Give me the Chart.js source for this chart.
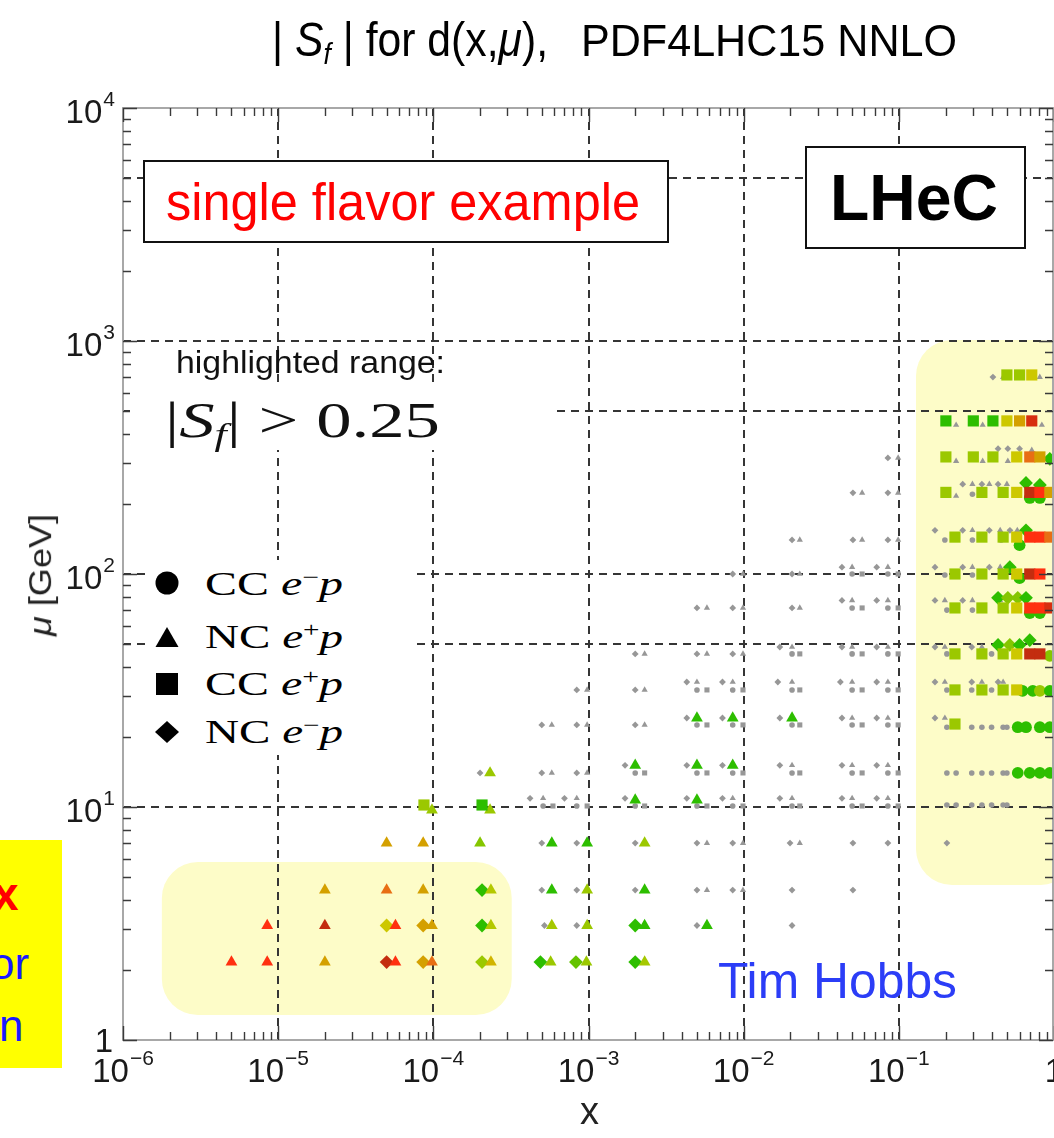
<!DOCTYPE html>
<html>
<head>
<meta charset="utf-8">
<title>|S_f| for d(x,mu), PDF4LHC15 NNLO</title>
<script src="https://cdn.jsdelivr.net/npm/chart.js"></script>
<style>
  html, body { margin:0; padding:0; background:#fff; }
  #wrap { position:relative; width:1054px; height:1138px; overflow:hidden; background:#fff; }
  #c { position:absolute; left:0; top:0; }
  .ov { position:absolute; white-space:nowrap; line-height:1; transform-origin:0 0; font-family:"Liberation Sans", Arial, sans-serif; }
  .serif { font-family:"Liberation Serif", "Times New Roman", serif; }
  .box { position:absolute; box-sizing:border-box; }
  .sub { font-size:0.62em; vertical-align:-0.25em; line-height:0; }
  .sup { font-size:0.62em; vertical-align:0.5em; line-height:0; }
</style>
</head>
<body>
<div id="wrap">
  <canvas id="c" width="1054" height="1138"></canvas>

  <!-- title -->
  <div class="ov" data-w="276" style="left:272px;top:15px;font-size:49px;color:#000;">| <i>S</i><span class="sub"><i>f</i></span> | for d(x,<i>μ</i>),</div>
  <div class="ov" data-w="376" style="left:581px;top:19px;font-size:44px;color:#000;">PDF4LHC15 NNLO</div>

  <!-- boxes -->
  <div class="box" style="left:143px;top:160px;width:526px;height:83px;border:2px solid #111;background:#fff;"></div>
  <div class="ov" data-w="474" style="left:166px;top:177px;font-size:51px;color:#ff0000;">single flavor example</div>

  <div class="box" style="left:805px;top:146px;width:221px;height:103px;border:2px solid #111;background:#fff;"></div>
  <div class="ov" data-w="168" style="left:830px;top:165px;font-size:65px;font-weight:bold;color:#000;">LHeC</div>

  <div class="ov" data-w="269" style="left:176px;top:347px;font-size:31px;color:#111;">highlighted range:</div>
  <div class="box" style="left:130px;top:388px;width:425px;height:62px;background:#fff;"></div>
  <div class="ov serif" data-w="275" style="left:165px;top:395px;font-size:50px;color:#111;">|<i>S</i><span class="sub"><i>f</i></span>|&nbsp;&gt;&nbsp;0.25</div>

  <!-- legend -->
  <div class="box" style="left:150px;top:560px;width:262px;height:195px;background:#fff;"></div>
  <svg class="box" style="left:150px;top:560px;" width="60" height="195">
    <circle cx="17" cy="23" r="11.5" fill="#000"/>
    <polygon points="17,67 28.5,87 5.5,87" fill="#000"/>
    <rect x="6" y="113" width="22" height="22" fill="#000"/>
    <polygon points="17,161 29,172 17,183 5,172" fill="#000"/>
  </svg>
  <div class="ov serif" data-w="138" style="left:205px;top:567px;font-size:34px;color:#000;">CC <i>e</i><span class="sup">−</span><i>p</i></div>
  <div class="ov serif" data-w="138" style="left:205px;top:620px;font-size:34px;color:#000;">NC <i>e</i><span class="sup">+</span><i>p</i></div>
  <div class="ov serif" data-w="138" style="left:205px;top:667px;font-size:34px;color:#000;">CC <i>e</i><span class="sup">+</span><i>p</i></div>
  <div class="ov serif" data-w="138" style="left:205px;top:715px;font-size:34px;color:#000;">NC <i>e</i><span class="sup">−</span><i>p</i></div>

  <div class="ov" data-w="239" style="left:718px;top:956px;font-size:50px;color:#2b3df7;">Tim Hobbs</div>

  <!-- axis titles -->
  <div id="ytitle" class="ov" style="left:0px;top:0px;font-size:32px;color:#222;"><i>μ</i> [GeV]</div>
  <div class="ov" style="left:580px;top:1092px;font-size:38px;color:#222;">x</div>

  <!-- cut-off side note -->
  <div class="box" style="left:0;top:840px;width:62px;height:228px;background:#ffff00;"></div>
  <div class="ov" style="left:-7px;top:871px;font-size:46px;font-weight:bold;color:#ff0000;">x</div>
  <div class="ov" style="left:-10px;top:942px;font-size:44px;color:#1a1aff;">or</div>
  <div class="ov" style="left:-1px;top:1004px;font-size:44px;color:#1a1aff;">n</div>
</div>

<script>
// ---------------- data: [x, mu (GeV), |S_f|] ----------------
const ncEplusP = [ // NC e+p (triangles)
  [5.0e-6,2.16,0.8],[8.5e-6,2.16,0.8],[2.0e-5,2.16,0.6],[5.7e-5,2.16,0.8],[9.8e-5,2.16,0.7],[2.35e-4,2.16,0.55],[5.7e-4,2.16,0.4],[9.7e-4,2.16,0.4],[2.3e-3,2.16,0.42],
  [8.5e-6,3.1,0.8],[2.0e-5,3.1,0.95],[5.7e-5,3.1,0.8],[9.8e-5,3.1,0.6],[2.35e-4,3.1,0.45],[5.8e-4,3.1,0.42],[9.8e-4,3.1,0.4],[2.3e-3,3.1,0.3],[5.8e-3,3.1,0.3],
  [2.0e-5,4.4,0.6],[5.0e-5,4.4,0.7],[8.6e-5,4.4,0.6],[2.35e-4,4.4,0.45],[5.8e-4,4.4,0.3],[9.8e-4,4.4,0.4],[2.3e-3,4.4,0.3],[5.8e-3,4.4,0.1],[9.9e-3,4.4,0.1],
  [5.0e-5,7.0,0.6],[8.6e-5,7.0,0.6],[2.0e-4,7.0,0.38],[5.8e-4,7.0,0.3],[9.8e-4,7.0,0.3],[2.3e-3,7.0,0.4],[5.8e-3,7.0,0.1],[9.9e-3,7.0,0.1],[0.023,7.0,0.1],
  [9.8e-5,9.7,0.4],[2.32e-4,9.7,0.4],[5.1e-4,10.9,0.1],[8.4e-4,10.9,0.1],[2.0e-3,10.7,0.3],[5.0e-3,10.7,0.3],[8.5e-3,10.9,0.1],[0.0205,10.9,0.1],[0.050,10.9,0.1],[0.085,10.9,0.1],
  [2.32e-4,14.0,0.4],[5.8e-4,14.0,0.1],[9.8e-4,14.0,0.1],[2.0e-3,15.1,0.3],[5.0e-3,15.1,0.3],[8.5e-3,15.1,0.3],[0.0205,15.1,0.1],[0.050,15.1,0.1],[0.085,15.1,0.1],
  [5.8e-4,22.5,0.1],[9.8e-4,22.5,0.1],[2.3e-3,22.5,0.1],[5.0e-3,24.1,0.3],[8.5e-3,24.1,0.3],[0.0205,24.1,0.3],[0.050,24.1,0.1],[0.085,24.1,0.1],[0.198,24.1,0.1],
  [9.8e-4,31.8,0.1],[2.3e-3,31.8,0.1],[5.0e-3,34.4,0.1],[8.5e-3,34.4,0.1],[0.0205,34.4,0.1],[0.050,34.4,0.1],[0.085,34.4,0.1],[0.198,34.4,0.1],[0.343,34.4,0.1],[0.47,34.4,0.1],
  [2.3e-3,45.4,0.1],[5.8e-3,45.4,0.1],[9.9e-3,45.4,0.1],[0.0205,48.6,0.1],[0.050,48.6,0.1],[0.085,48.6,0.1],[0.198,48.6,0.1],[0.343,48.6,0.1],
  [5.8e-3,71.5,0.1],[9.9e-3,71.5,0.1],[0.023,71.5,0.1],[0.050,77,0.1],[0.085,77,0.1],[0.198,77,0.1],[0.298,77,0.1],[0.45,77,0.1],
  [9.9e-3,100,0.1],[0.023,100,0.1],[0.050,107,0.1],[0.085,107,0.1],[0.298,107,0.1],[0.45,107,0.1],
  [0.023,140,0.1],[0.058,140,0.1],[0.099,140,0.1],[0.298,154,0.1],[0.45,154,0.1],[0.58,154,0.1],
  [0.058,223,0.1],[0.099,223,0.1],[0.234,216,0.1],[0.298,243,0.1],[0.383,243,0.1],[0.497,243,0.1],
  [0.099,315,0.1],[0.234,305,0.1],[0.347,305,0.1],[0.504,305,0.1],[0.719,340,0.1],
  [0.234,436,0.1],[0.347,436,0.1],[0.835,436,0.1],
  [0.47,700,0.1],[0.81,700,0.1]
];
const ncEminusP = [ // NC e-p (diamonds)
  [5.0e-5,2.16,0.95],[8.6e-5,2.16,0.6],[2.06e-4,2.16,0.4],[4.9e-4,2.16,0.3],[8.3e-4,2.16,0.35],[2.0e-3,2.16,0.3],
  [5.0e-5,3.1,0.5],[8.6e-5,3.1,0.6],[2.06e-4,3.1,0.3],[5.2e-4,3.1,0.1],[8.4e-4,3.1,0.1],[2.0e-3,3.1,0.3],[5.0e-3,3.1,0.1],[0.0205,3.1,0.1],
  [2.06e-4,4.4,0.3],[5.0e-4,4.4,0.1],[8.4e-4,4.4,0.1],[2.0e-3,4.4,0.1],[5.0e-3,4.4,0.1],[8.5e-3,4.4,0.1],[0.0205,4.4,0.1],[0.0506,4.4,0.1],
  [5.0e-4,7.0,0.1],[8.4e-4,7.0,0.1],[2.0e-3,7.0,0.1],[5.0e-3,7.0,0.1],[8.5e-3,7.0,0.1],[0.0199,7.0,0.1],[0.0506,7.0,0.1],[0.085,7.0,0.1],[0.204,7.0,0.1],
  [4.2e-4,10.9,0.1],[7.0e-4,10.9,0.1],[1.72e-3,10.9,0.1],[4.3e-3,10.9,0.1],[7.3e-3,10.9,0.1],[0.0171,10.9,0.1],[0.043,10.9,0.1],[0.072,10.9,0.1],
  [2.0e-4,14.0,0.1],[5.0e-4,14.0,0.1],[8.4e-4,14.0,0.1],[1.72e-3,15.1,0.1],[4.3e-3,15.1,0.1],[7.3e-3,15.1,0.1],[0.0171,15.1,0.1],[0.043,15.1,0.1],[0.072,15.1,0.1],
  [5.0e-4,22.5,0.1],[8.4e-4,22.5,0.1],[2.0e-3,22.5,0.1],[4.3e-3,24.1,0.1],[7.3e-3,24.1,0.1],[0.0171,24.1,0.1],[0.043,24.1,0.1],[0.072,24.1,0.1],[0.171,24.1,0.1],
  [8.4e-4,31.8,0.1],[2.0e-3,31.8,0.1],[4.3e-3,34.4,0.1],[7.3e-3,34.4,0.1],[0.0166,34.4,0.1],[0.042,34.4,0.1],[0.072,34.4,0.1],[0.171,34.4,0.1],[0.295,34.4,0.1],[0.436,34.4,0.1],
  [2.0e-3,45.4,0.1],[5.0e-3,45.4,0.1],[8.5e-3,45.4,0.1],[0.0171,48.6,0.1],[0.043,48.6,0.1],[0.072,48.6,0.1],[0.171,48.6,0.1],[0.295,48.6,0.1],[0.436,49.6,0.3],[0.519,49.6,0.38],[0.60,49.6,0.3],[0.698,52,0.3],
  [5.0e-3,71.5,0.1],[8.5e-3,71.5,0.1],[0.0205,71.5,0.1],[0.043,77,0.1],[0.072,77,0.1],[0.171,77,0.1],[0.258,77,0.1],[0.436,79,0.3],[0.504,79,0.38],[0.584,79,0.38],[0.66,79,0.3],
  [8.5e-3,100,0.1],[0.0205,100,0.1],[0.043,107,0.1],[0.072,107,0.1],[0.171,107,0.1],[0.258,107,0.1],[0.383,107,0.1],[0.519,107,0.3],
  [0.0205,140,0.1],[0.0506,140,0.1],[0.085,140,0.1],[0.171,154,0.1],[0.258,154,0.1],[0.383,154,0.1],[0.52,154,0.1],[0.66,154,0.3],
  [0.0506,223,0.1],[0.085,223,0.1],[0.258,243,0.1],[0.343,243,0.1],[0.436,243,0.1],[0.66,246,0.3],[0.811,241,0.3],
  [0.085,315,0.1],[0.436,345,0.1],[0.504,345,0.1],[0.60,345,0.1],[0.94,312,0.3],
  [0.404,700,0.1]
];
const ccEminusP = [ // CC e-p (circles)
  [5.1e-4,10.1,0.1],[8.4e-4,10.1,0.1],[2.0e-3,10.1,0.1],[5.0e-3,10.1,0.1],[8.5e-3,10.1,0.1],[0.0205,10.1,0.1],[0.050,10.1,0.1],[0.085,10.1,0.1],
  [0.204,10.2,0.1],[0.234,10.2,0.1],[0.295,10.2,0.1],[0.343,10.2,0.1],[0.396,10.2,0.1],[0.47,10.2,0.1],[0.497,10.2,0.1],
  [2.0e-3,14.0,0.1],[5.0e-3,14.0,0.1],[8.5e-3,14.0,0.1],[0.0205,14.0,0.1],[0.050,14.0,0.1],[0.085,14.0,0.1],
  [0.204,14.0,0.1],[0.234,14.0,0.1],[0.295,14.0,0.1],[0.343,14.0,0.1],[0.396,14.0,0.1],[0.47,14.0,0.1],[0.497,14.0,0.1],
  [0.584,14.0,0.3],[0.698,14.0,0.3],[0.811,14.0,0.3],[0.94,14.0,0.3],
  [5.0e-3,22.5,0.1],[8.5e-3,22.5,0.1],[0.0205,22.5,0.1],[0.050,22.5,0.1],[0.085,22.5,0.1],
  [0.204,22.0,0.1],[0.295,22.0,0.1],[0.343,22.0,0.1],[0.396,22.0,0.1],[0.47,22.0,0.1],[0.497,22.0,0.1],
  [0.584,22.0,0.3],[0.66,22.0,0.3],[0.811,22.0,0.3],[0.94,22.0,0.3],
  [5.0e-3,31.8,0.1],[8.5e-3,31.8,0.1],[0.0205,31.8,0.1],[0.050,31.8,0.1],[0.085,31.8,0.1],
  [0.204,31.8,0.1],[0.295,31.8,0.1],[0.396,31.8,0.1],
  [0.627,31.5,0.3],[0.73,31.5,0.3],[0.811,31.5,0.4],[0.94,31.5,0.3],
  [0.0205,45.4,0.1],[0.050,45.4,0.1],[0.085,45.4,0.1],[0.204,45.4,0.1],[0.343,45.4,0.1],[0.396,45.4,0.1],
  [0.94,44.5,0.38],
  [0.050,71.5,0.1],[0.085,71.5,0.1],[0.204,70,0.1],[0.298,70,0.1],
  [0.698,68,0.3],[0.811,68,0.3],
  [0.050,100,0.1],[0.085,100,0.1],[0.198,99,0.1],[0.298,99,0.1],
  [0.60,96,0.3],
  [0.198,140,0.1],[0.298,140,0.1],[0.456,140,0.1],
  [0.60,133,0.3],
  [0.298,220,0.1],
  [0.698,212,0.3],[0.811,212,0.3]
];
const ccEplusP = [ // CC e+p (squares)
  [8.7e-5,10.2,0.4],[2.06e-4,10.2,0.3],
  [5.9e-4,10.1,0.1],[9.8e-4,10.1,0.1],[2.3e-3,10.1,0.1],[5.8e-3,10.1,0.1],[9.9e-3,10.1,0.1],[0.023,10.1,0.1],[0.058,10.1,0.1],[0.099,10.1,0.1],
  [2.3e-3,14.0,0.1],[5.8e-3,14.0,0.1],[9.9e-3,14.0,0.1],[0.023,14.0,0.1],[0.058,14.0,0.1],[0.099,14.0,0.1],
  [5.8e-3,22.5,0.1],[9.9e-3,22.5,0.1],[0.023,22.5,0.1],[0.058,22.5,0.1],[0.099,22.5,0.1],[0.23,22.7,0.4],
  [5.8e-3,31.8,0.1],[9.9e-3,31.8,0.1],[0.023,31.8,0.1],[0.058,31.8,0.1],[0.099,31.8,0.1],
  [0.23,31.8,0.4],[0.343,31.8,0.4],[0.47,31.8,0.4],[0.575,31.8,0.5],
  [0.023,45.4,0.1],[0.058,45.4,0.1],[0.099,45.4,0.1],
  [0.23,45.4,0.4],[0.343,45.4,0.4],[0.47,45.4,0.4],[0.575,45.4,0.5],[0.698,45.4,0.95],[0.811,45.4,0.95],
  [0.058,71.5,0.1],[0.099,71.5,0.1],
  [0.23,71.5,0.4],[0.343,71.5,0.4],[0.47,71.5,0.4],[0.575,71.5,0.5],[0.698,71.5,0.8],[0.811,71.5,0.8],[0.94,71.5,0.9],
  [0.058,100,0.1],[0.099,100,0.1],
  [0.23,100,0.4],[0.343,100,0.4],[0.47,100,0.4],[0.575,100,0.5],[0.698,100,0.95],[0.811,100,0.8],
  [0.23,144,0.4],[0.343,144,0.4],[0.47,144,0.4],[0.575,144,0.5],[0.698,144,0.8],[0.811,144,0.8],[0.94,144,0.7],
  [0.201,224,0.4],[0.343,224,0.4],[0.47,224,0.4],[0.575,224,0.5],[0.698,224,0.95],[0.811,224,0.8],[0.94,224,0.6],
  [0.201,318,0.4],[0.302,318,0.4],[0.404,318,0.4],[0.575,318,0.5],[0.698,318,0.7],[0.811,318,0.6],
  [0.201,454,0.3],[0.302,454,0.3],[0.404,454,0.3],[0.497,454,0.5],[0.60,454,0.6],[0.719,454,0.9],
  [0.497,715,0.4],[0.60,715,0.4],[0.719,715,0.5]
];

const threshold = 0.25;
const xTickExponents = [-6, -5, -4, -3, -2, -1, 0];
const yTickExponents = [0, 1, 2, 3, 4];
const minorMultipliers = [2, 3, 4, 5, 6, 7, 8, 9];
const gridX = [1e-5, 1e-4, 1e-3, 1e-2, 1e-1];
const gridY = [10, 50, 100, 500, 1000, 5000];
const highlightRegions = [
  { xMin: 1.78e-6, xMax: 3.2e-4, yMin: 1.28, yMax: 5.8 },
  { xMin: 0.129, xMax: 1.4, yMin: 4.63, yMax: 1010 }
];

// ---------------- styling ----------------
const GRAY = '#979797';
const colorStops = [
  [0.25, [30,185,0]], [0.3, [45,190,0]], [0.4, [155,200,0]], [0.5, [205,200,0]],
  [0.6, [212,160,0]], [0.7, [232,110,20]], [0.8, [255,48,16]], [0.95, [195,45,15]]
];
function sColor(s) {
  if (s <= colorStops[0][0]) return 'rgb(' + colorStops[0][1].join(',') + ')';
  for (let i = 1; i < colorStops.length; i++) {
    const [s1, c1] = colorStops[i];
    const [s0, c0] = colorStops[i - 1];
    if (s <= s1) {
      const t = (s - s0) / (s1 - s0);
      const c = c0.map((v, k) => Math.round(v + (c1[k] - v) * t));
      return 'rgb(' + c.join(',') + ')';
    }
  }
  return 'rgb(' + colorStops[colorStops.length - 1][1].join(',') + ')';
}
function pts(arr, hi) {
  return arr.filter(p => (p[2] >= threshold) === hi).map(p => ({ x: p[0], y: p[1], s: p[2] }));
}
function mkDs(label, arr, hi, style, radius) {
  return {
    label: label + (hi ? ' |S_f|>0.25' : ' |S_f|<0.25'),
    data: pts(arr, hi),
    showLine: false,
    pointStyle: style,
    pointRadius: radius,
    pointHoverRadius: radius,
    pointBorderWidth: 0,
    pointBorderColor: 'rgba(0,0,0,0)',
    pointBackgroundColor: hi ? (c => sColor(c.raw ? c.raw.s : 0.3)) : GRAY
  };
}
// first dataset is drawn on top
const datasets = [
  mkDs('CC e+p', ccEplusP, true, 'rect', 7.9),
  mkDs('NC e+p', ncEplusP, true, 'triangle', 6.8),
  mkDs('NC e-p', ncEminusP, true, 'rectRot', 6.9),
  mkDs('CC e-p', ccEminusP, true, 'circle', 5.9),
  mkDs('CC e+p', ccEplusP, false, 'rect', 3.6),
  mkDs('NC e+p', ncEplusP, false, 'triangle', 3.6),
  mkDs('NC e-p', ncEminusP, false, 'rectRot', 3.4),
  mkDs('CC e-p', ccEminusP, false, 'circle', 2.8)
];

function roundRectPath(ctx, x0, y0, x1, y1, r) {
  ctx.beginPath();
  ctx.moveTo(x0 + r, y0);
  ctx.lineTo(x1 - r, y0); ctx.arcTo(x1, y0, x1, y0 + r, r);
  ctx.lineTo(x1, y1 - r); ctx.arcTo(x1, y1, x1 - r, y1, r);
  ctx.lineTo(x0 + r, y1); ctx.arcTo(x0, y1, x0, y1 - r, r);
  ctx.lineTo(x0, y0 + r); ctx.arcTo(x0, y0, x0 + r, y0, r);
  ctx.closePath();
}

const backgroundPlugin = {
  id: 'bgGrid',
  beforeDatasetsDraw(chart) {
    const { ctx, chartArea: a } = chart;
    const xs = chart.scales.x, ys = chart.scales.y;
    ctx.save();
    ctx.fillStyle = 'rgb(253,252,200)';
    for (const r of highlightRegions) {
      const x0 = xs.getPixelForValue(r.xMin), x1 = xs.getPixelForValue(r.xMax);
      const y0 = ys.getPixelForValue(r.yMax), y1 = ys.getPixelForValue(r.yMin);
      roundRectPath(ctx, x0, y0, x1, y1, 36);
      ctx.fill();
    }
    ctx.strokeStyle = '#353535';
    ctx.lineWidth = 2;
    ctx.setLineDash([8, 6]);
    ctx.beginPath();
    for (const v of gridX) {
      const px = Math.round(xs.getPixelForValue(v));
      ctx.moveTo(px, a.top); ctx.lineTo(px, a.bottom);
    }
    for (const v of gridY) {
      const py = Math.round(ys.getPixelForValue(v));
      ctx.moveTo(a.left, py); ctx.lineTo(a.right, py);
    }
    ctx.stroke();
    ctx.restore();
  }
};

const FONT_BASE = '33px "Liberation Sans", Arial, sans-serif';
const FONT_EXP = '21px "Liberation Sans", Arial, sans-serif';
function drawPow(ctx, e, x, baseY, align) {
  const base = e === 0 ? '1' : '10';
  const exp = e === 0 ? '' : (e < 0 ? '\u2212' + (-e) : String(e));
  ctx.font = FONT_BASE;
  const wb = ctx.measureText(base).width;
  ctx.font = FONT_EXP;
  const we = exp ? ctx.measureText(exp).width + 1 : 0;
  const total = wb + we;
  const left = align === 'center' ? x - total / 2 : x - total;
  ctx.textAlign = 'left';
  ctx.textBaseline = 'alphabetic';
  ctx.font = FONT_BASE;
  ctx.fillText(base, left, baseY);
  if (exp) {
    ctx.font = FONT_EXP;
    ctx.fillText(exp, left + wb + 1, baseY - 17);
  }
}

const axesPlugin = {
  id: 'axesFrame',
  afterDraw(chart) {
    const { ctx, chartArea: a } = chart;
    const xs = chart.scales.x, ys = chart.scales.y;
    ctx.save();
    ctx.setLineDash([]);
    ctx.strokeStyle = '#a8a8a8';
    ctx.lineWidth = 2;
    ctx.beginPath();
    ctx.moveTo(a.left, a.top); ctx.lineTo(a.right - 1, a.top);
    ctx.lineTo(a.right - 1, a.bottom); ctx.lineTo(a.left, a.bottom);
    ctx.closePath();
    ctx.stroke();

    ctx.strokeStyle = '#3a3a3a';
    ctx.lineWidth = 1.4;
    ctx.beginPath();
    for (const e of xTickExponents) {
      const d = Math.pow(10, e);
      const vals = [[d, 14]];
      if (e < 0) for (const m of minorMultipliers) vals.push([m * d, 8]);
      for (const [v, L] of vals) {
        const px = Math.round(xs.getPixelForValue(v)) + 0.5;
        ctx.moveTo(px, a.bottom); ctx.lineTo(px, a.bottom - L);
        ctx.moveTo(px, a.top); ctx.lineTo(px, a.top + L);
      }
    }
    for (const e of yTickExponents) {
      const d = Math.pow(10, e);
      const vals = [[d, 14]];
      if (e < 4) for (const m of minorMultipliers) vals.push([m * d, 8]);
      for (const [v, L] of vals) {
        const py = Math.round(ys.getPixelForValue(v)) + 0.5;
        ctx.moveTo(a.left, py); ctx.lineTo(a.left + L, py);
        ctx.moveTo(a.right - 1, py); ctx.lineTo(a.right - 1 - L, py);
      }
    }
    ctx.stroke();

    ctx.fillStyle = '#1a1a1a';
    for (const e of xTickExponents) {
      const px = xs.getPixelForValue(Math.pow(10, e));
      drawPow(ctx, e, px, 1082, 'center');
    }
    for (const e of yTickExponents) {
      const py = ys.getPixelForValue(Math.pow(10, e));
      if (e === 0) drawPow(ctx, e, 113, py + 12, 'right');
      else drawPow(ctx, e, 115, py + 15, 'right');
    }
    ctx.restore();
  }
};

const chart = new Chart(document.getElementById('c'), {
  type: 'scatter',
  data: { datasets },
  options: {
    responsive: false,
    animation: false,
    devicePixelRatio: 1,
    events: [],
    layout: { autoPadding: false, padding: { left: 123, top: 108, right: 0, bottom: 98 } },
    scales: {
      x: { type: 'logarithmic', min: 1e-6, max: 1, display: false, ticks: { display: false }, grid: { display: false } },
      y: { type: 'logarithmic', min: 1, max: 1e4, display: false, ticks: { display: false }, grid: { display: false } }
    },
    plugins: { legend: { display: false }, tooltip: { enabled: false } }
  },
  plugins: [backgroundPlugin, axesPlugin]
});

// ---------------- text fitting ----------------
function fitTexts() {
  document.querySelectorAll('[data-w]').forEach(el => {
    el.style.transform = 'none';
    const w = el.getBoundingClientRect().width;
    const target = parseFloat(el.dataset.w);
    if (w > 0) el.style.transform = 'scaleX(' + (target / w) + ')';
  });
  const yt = document.getElementById('ytitle');
  yt.style.transform = 'none';
  const w = yt.offsetWidth, h = yt.offsetHeight;
  yt.style.left = (40 - w / 2) + 'px';
  yt.style.top = (575 - h / 2) + 'px';
  yt.style.transformOrigin = '50% 50%';
  yt.style.transform = 'rotate(-90deg) scaleX(' + (122 / w) + ')';
}
fitTexts();
if (document.fonts && document.fonts.ready) document.fonts.ready.then(fitTexts);
</script>
</body>
</html>
